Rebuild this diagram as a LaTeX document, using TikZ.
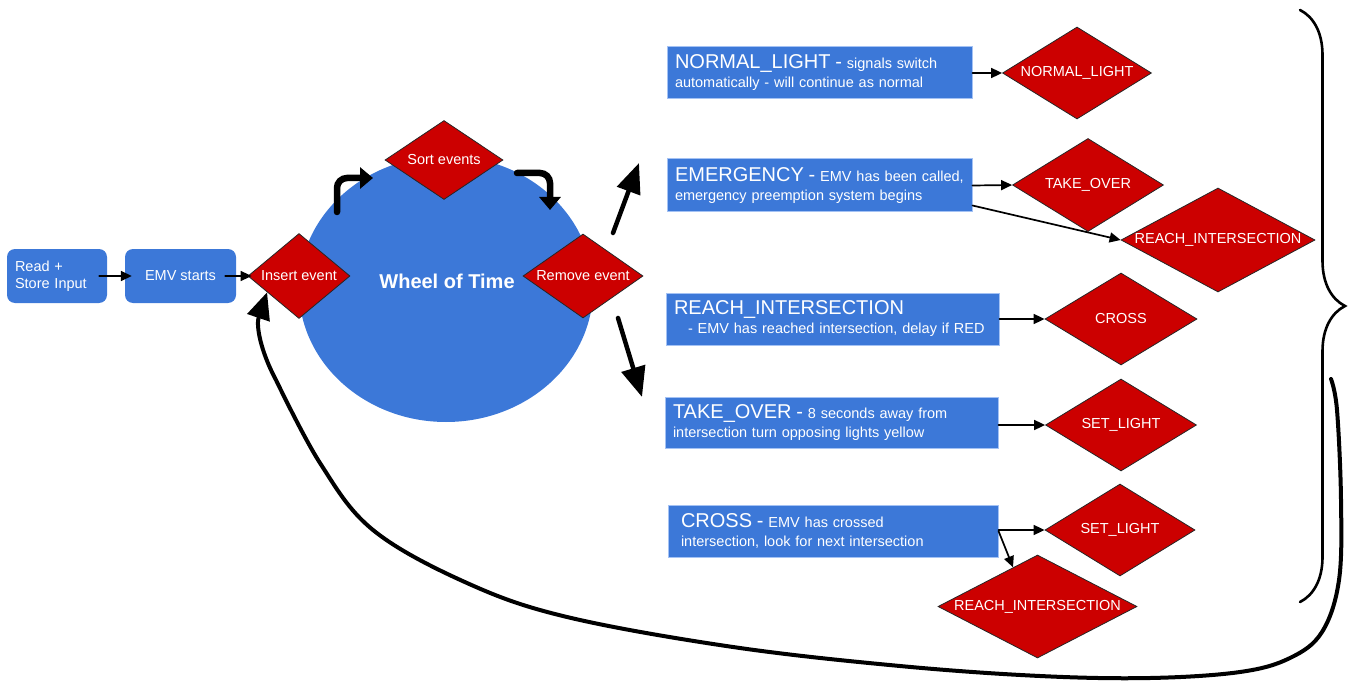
\documentclass[tikz,border=0pt]{standalone}
\usepackage{fontspec}
\setmainfont{Liberation Sans}
\usetikzlibrary{shapes.geometric,arrows.meta,decorations.pathreplacing}
\definecolor{wheelblue}{HTML}{3C78D8}
\definecolor{stepred}{HTML}{CC0000}
\definecolor{edgeblue}{HTML}{A4C2F4}
\newcommand{\boxtitle}[1]{{\fontsize{20}{19}\selectfont #1}}

\begin{document}
\begin{tikzpicture}[x=1pt, y=-1pt, line cap=round,
		diam/.style 2 args={diamond, aspect=1.6, fill=stepred, draw=black!85, line width=0.8pt, inner sep=0pt, text=white, minimum width=#1pt, minimum height=#2pt, font=\fontsize{14.5}{17}\selectfont},
		rbox/.style={rectangle, rounded corners=8pt, fill=wheelblue, text=white, inner xsep=8pt, inner ysep=0pt, minimum height=54pt, font=\fontsize{14.5}{17}\selectfont},
		infobox/.style={rectangle, fill=wheelblue, draw=edgeblue, line width=1pt, text=white, inner xsep=8pt, inner ysep=0pt, align=left, font=\fontsize{14.5}{19}\selectfont},
		arr/.style={-{Triangle[length=11pt,width=10pt]}, line width=1.7pt},
		bigarr/.style={-{Triangle[length=30pt,width=24pt]}, line width=4.5pt},
		turnarr/.style={-{Triangle[length=13pt,width=21pt]}, line width=6.5pt, rounded corners=10pt},
		fbarr/.style={-{Triangle[length=27pt,width=23pt]}, line width=4pt}]
	\useasboundingbox (0,0) rectangle (1349,687);
	
	% Wheel of Time
	\fill[wheelblue] (446,289) ellipse [x radius=147pt, y radius=133pt];
	\node[font=\bfseries\fontsize{20}{24}\selectfont, text=white] (wot) at (447,281) {Wheel of Time};
	
	% Start boxes
	\node[rbox, align=left, text width=84pt] (read) at (57,276) {Read +\\Store Input};
	\node[rbox, align=center, minimum width=111pt] (emv) at (180.5,276) {EMV starts};
	
	% Wheel steps
	\node[diam={102}{85}] (ins) at (299,276) {Insert event};
	\node[diam={118}{79}] (sort) at (444,160) {Sort events};
	\node[diam={120}{84}] (rem) at (583,276) {Remove event};
	
	% Event boxes
	\node[infobox, text width=289pt, minimum height=52pt] (nl) at (819.5,73) {\mbox{\boxtitle{NORMAL\_LIGHT -} signals switch}\\\mbox{automatically - will continue as normal}};
	\node[infobox, text width=289pt, minimum height=53pt] (em) at (819.5,185.5) {\mbox{\boxtitle{EMERGENCY -} EMV has been called,}\\\mbox{emergency preemption system begins}};
	\node[infobox, text width=317pt, minimum height=52pt] (ri) at (832.5,319) {\mbox{\boxtitle{REACH\_INTERSECTION}}\\\mbox{\hspace*{14pt}- EMV has reached intersection, delay if RED}};
	\node[infobox, text width=317pt, minimum height=51pt] (to) at (831.5,422.5) {\mbox{\boxtitle{TAKE\_OVER -} 8 seconds away from}\\\mbox{intersection turn opposing lights yellow}};
	\node[infobox, inner xsep=13pt, text width=304pt, minimum height=52pt] (cr) at (833,531) {\mbox{\boxtitle{CROSS -} EMV has crossed}\\\mbox{intersection, look for next intersection}};
	
	% Resulting events
	\node[diam={149}{92}] (dnl) at (1077,73) {NORMAL\_LIGHT};
	\node[diam={151}{93}] (dto) at (1088,185) {TAKE\_OVER};
	\node[diam={194}{104}, aspect=1.9] (dri) at (1218,240) {REACH\_INTERSECTION};
	\node[diam={152}{92}] (dcr) at (1121,319) {CROSS};
	\node[diam={151}{92}] (dsl) at (1121,425) {SET\_LIGHT};
	\node[diam={150}{92}] (dsl2) at (1120,530) {SET\_LIGHT};
	\node[diam={199}{103}, aspect=1.9] (dri2) at (1037.5,606.5) {REACH\_INTERSECTION};
	
	% Free arrow ends
	\coordinate (t1a) at (337,212);
	\coordinate (t1b) at (373,178);
	\coordinate (t2a) at (517,173);
	\coordinate (t2b) at (550,210);
	\coordinate (up0) at (613,233);
	\coordinate (up1) at (639,163);
	\coordinate (dn0) at (618,318);
	\coordinate (dn1) at (642,397);
	\coordinate (fb) at (1331,379);
	
	% Arrows
	\draw[arr] ([xshift=-8pt]read.east) -- ([xshift=7pt]emv.west);
	\draw[arr] ([xshift=-11pt]emv.east) -- ([xshift=4pt]ins.west);
	\draw[turnarr] (t1a) |- (t1b);
	\draw[turnarr] (t2a) -| (t2b);
	\draw[bigarr] (up0) -- (up1);
	\draw[bigarr] (dn0) -- (dn1);
	
	\draw[arr] (nl.east) -- (dnl.west);
	\draw[arr] (em.east) -- (dto.west);
	\draw[arr] ([yshift=7pt]em.south east) -- (dri.west);
	\draw[arr] (ri.east) -- (dcr.west);
	\draw[arr] (to.east |- dsl.west) -- (dsl.west);
	\draw[arr] (cr.east |- dsl2.west) -- (dsl2.west);
	\draw[arr] (cr.east) -- (dri2.122);
	
	% Brace
	\draw[decorate, decoration={brace, amplitude=45pt}, line width=2.6pt] (1300,10) -- (1300,602);
	
	% Back to Insert event
	\draw[fbarr] plot[smooth, tension=0.6] coordinates {(fb) (1337,410) (1341,500) (1339,580) (1322,632) (1290,658) (1240,672) (1150,678) (1040,676) (900,666) (733,647) (567,617) (467,583) (373,530) (320,463) (276,380)}
		.. controls (260,350) and (256,325) .. (ins.207);
\end{tikzpicture}
\end{document}
